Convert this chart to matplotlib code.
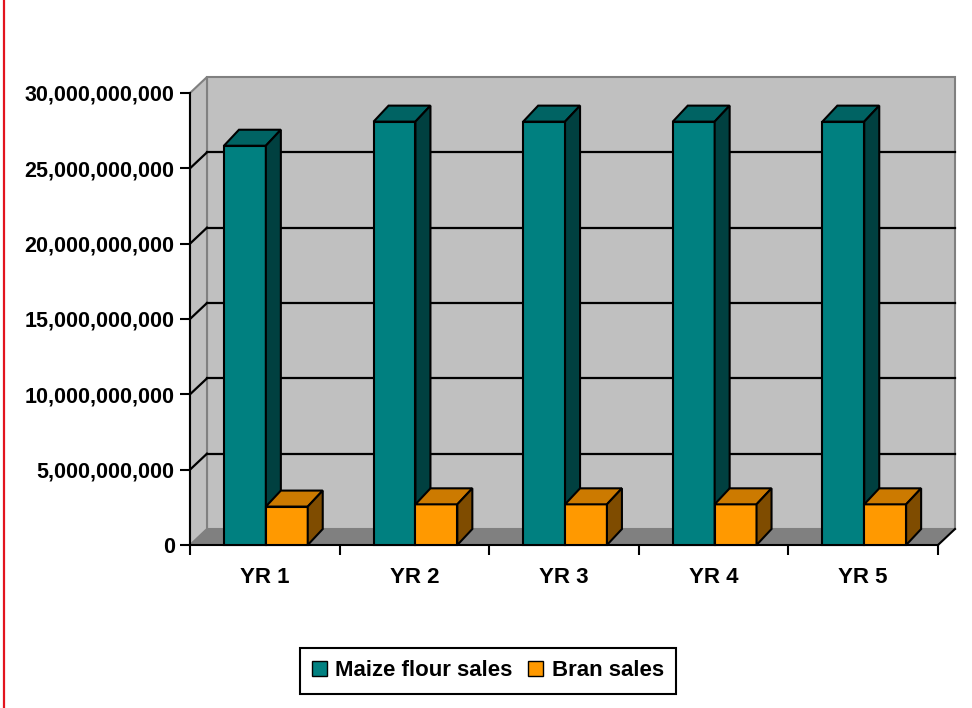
import matplotlib
matplotlib.use('Agg')
import matplotlib.pyplot as plt
from matplotlib.patches import Polygon, Patch
from matplotlib.lines import Line2D
import matplotlib.ticker as mticker

# data
years = ['YR 1', 'YR 2', 'YR 3', 'YR 4', 'YR 5']
maize_sales = [26.5e9, 28.1e9, 28.1e9, 28.1e9, 28.1e9]
bran_sales = [2.55e9, 2.7e9, 2.7e9, 2.7e9, 2.7e9]
y_ticks = [0, 5e9, 10e9, 15e9, 20e9, 25e9, 30e9]

plt.rcParams['font.family'] = ['Liberation Sans', 'DejaVu Sans']

W, H = 972, 708
fig = plt.figure(figsize=(W / 100, H / 100), dpi=100)
fig.patch.set_facecolor('white')

# front plane of the 3d box
x0, x1, y0, y1 = 190, 938, 545, 93
ax = fig.add_axes([x0 / W, 1 - y0 / H, (x1 - x0) / W, (y0 - y1) / H])
ax.set_xlim(0, len(years))
ax.set_ylim(0, y_ticks[-1])
ax.patch.set_visible(False)

# pixel -> data offsets for the fake depth
ux = len(years) / (x1 - x0)
uy = y_ticks[-1] / (y0 - y1)
wdx, wdy = 17 * ux, 16 * uy   # walls
bdx, bdy = 15 * ux, 16 * uy   # bars
n = len(years)
top = y_ticks[-1]


def poly(pts, fc, ec, z, lw=1.0):
    ax.add_patch(Polygon(pts, closed=True, facecolor=fc, edgecolor=ec,
                         linewidth=lw, zorder=z, clip_on=False))


# walls and floor
poly([(wdx, wdy), (n + wdx, wdy), (n + wdx, top + wdy), (wdx, top + wdy)],
     '#c0c0c0', '#808080', 0.5, 1.5)
poly([(0, 0), (0, top), (wdx, top + wdy), (wdx, wdy)], '#c0c0c0', '#808080', 0.5, 1.5)
poly([(0, 0), (n, 0), (n + wdx, wdy), (wdx, wdy)], '#808080', 'none', 0.7)
ax.plot([n, n + wdx], [0, wdy], color='black', lw=1.5, zorder=0.8, clip_on=False)

# gridlines on back and side wall
for v in y_ticks[1:-1]:
    ax.plot([wdx, n + wdx], [v + wdy, v + wdy], color='black', lw=1.6, zorder=0.6, clip_on=False)
    ax.plot([0, wdx], [v, v + wdy], color='black', lw=1.6, zorder=0.6, clip_on=False)


def bar3d(left, width, h, front, topc, side, z):
    r = left + width
    poly([(left, 0), (r, 0), (r, h), (left, h)], front, 'black', z, 1.5)
    poly([(left, h), (r, h), (r + bdx, h + bdy), (left + bdx, h + bdy)], topc, 'black', z, 1.5)
    poly([(r, 0), (r + bdx, bdy), (r + bdx, h + bdy), (r, h)], side, 'black', z, 1.5)


bw = 0.28
gap = 0.227
for i in range(n):
    bar3d(i + gap, bw, maize_sales[i], '#008080', '#006363', '#004040', 2 + i * 0.1)
    bar3d(i + gap + bw, bw, bran_sales[i], '#ff9900', '#cc7a00', '#7f4c00', 2.05 + i * 0.1)

# axes
for s in ['top', 'right']:
    ax.spines[s].set_visible(False)
for s in ['left', 'bottom']:
    ax.spines[s].set_linewidth(1.5)
    ax.spines[s].set_zorder(1)

ax.set_yticks(y_ticks)
ax.yaxis.set_major_formatter(mticker.FuncFormatter(lambda v, p: f'{v:,.0f}'))
ax.tick_params(axis='y', length=7, width=1.5, pad=4, labelsize=15.5)
for t in ax.get_yticklabels():
    t.set_fontweight('bold')

ax.set_xticks(range(n + 1))
ax.set_xticklabels([])
ax.set_xticks([i + 0.5 for i in range(n)], minor=True)
ax.set_xticklabels(years, minor=True, fontsize=16, fontweight='bold')
ax.tick_params(axis='x', which='major', length=7, width=1.5)
ax.tick_params(axis='x', which='minor', length=0, pad=16)

handles = [Patch(facecolor='#008080', edgecolor='black', label='Maize flour sales'),
           Patch(facecolor='#ff9900', edgecolor='black', label='Bran sales')]
leg = fig.legend(handles=handles, loc='center', bbox_to_anchor=(488 / W, 1 - 671 / H),
                 ncol=2, frameon=True, fancybox=False, edgecolor='black', framealpha=1,
                 prop=dict(weight='bold', size=16), handlelength=0.65, handleheight=0.65,
                 handletextpad=0.4, columnspacing=0.7, borderpad=0.55, borderaxespad=0)
leg.get_frame().set_linewidth(1.5)

# page margin line on the left
fig.add_artist(Line2D([4 / W, 4 / W], [0, 1], color='#e3141e', lw=1.6))

fig.savefig('out.png', dpi=100)
